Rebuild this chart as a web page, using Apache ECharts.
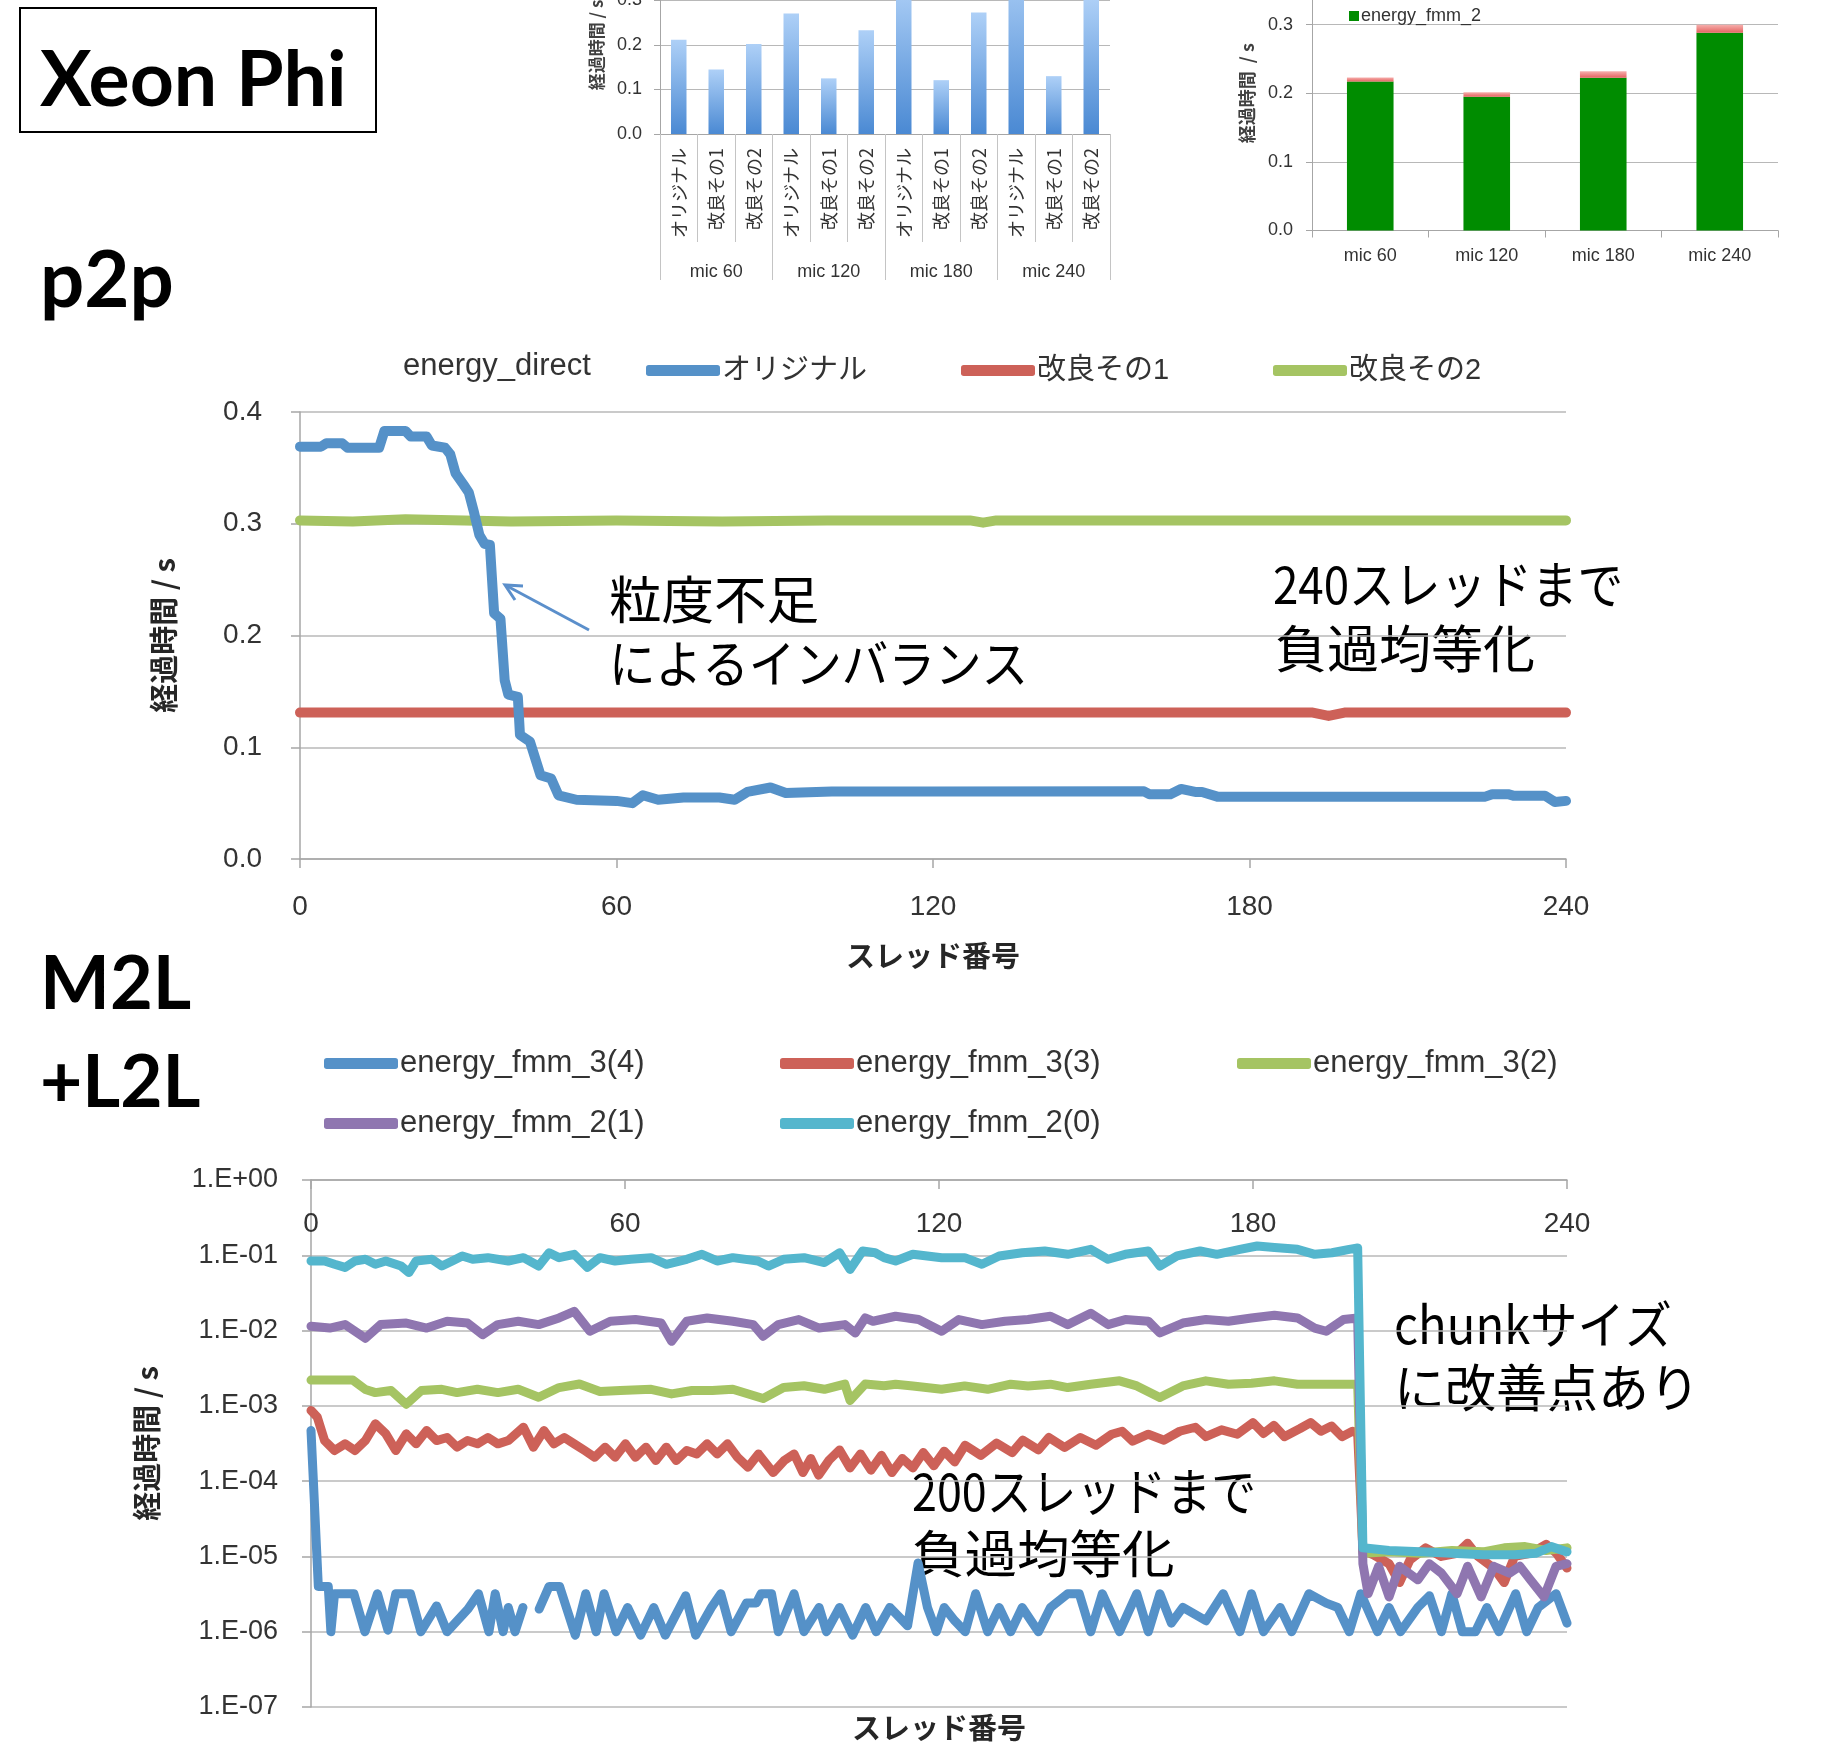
<!DOCTYPE html>
<html><head><meta charset="utf-8">
<script src="https://cdn.jsdelivr.net/npm/echarts@6/dist/echarts.min.js"></script>
<style>html,body{margin:0;padding:0;background:#fff}#c{width:1826px;height:1746px}</style>
</head><body><div id="c"></div>
<script>
// ---------- Chart A: top-middle bar chart ----------
const catA = ['オリジナル','改良その1','改良その2','オリジナル','改良その1','改良その2','オリジナル','改良その1','改良その2','オリジナル','改良その1','改良その2'];
const groupA = ['mic 60','mic 120','mic 180','mic 240'];
const valA = [0.212,0.145,0.202, 0.271,0.125,0.233, 0.34,0.121,0.273, 0.385,0.130,0.305];

// ---------- Chart B: top-right stacked bar ----------
const catB = ['mic 60','mic 120','mic 180','mic 240'];
const fmm2Main = [0.217,0.195,0.2225,0.288];
const fmm2Rest = [0.006,0.0065,0.0095,0.012];

// ---------- Chart C: p2p energy_direct ----------
const origC = [[0,0.369],[4,0.369],[5,0.372],[8,0.372],[9,0.368],[15,0.368],[16,0.383],[20,0.383],[21,0.378],[24,0.378],[25,0.370],[27.5,0.368],[28.5,0.362],[29.5,0.345],[31,0.335],[32,0.328],[33,0.31],[34,0.29],[35,0.282],[36,0.281],[36.8,0.22],[38,0.215],[38.8,0.16],[39.5,0.147],[41.3,0.145],[41.7,0.111],[43.6,0.105],[45.6,0.075],[47.6,0.072],[49,0.057],[52.4,0.053],[60,0.052],[63,0.050],[65,0.057],[67.9,0.053],[72.7,0.055],[79.5,0.055],[82.4,0.053],[84.8,0.06],[89.2,0.064],[92.1,0.059],[100.8,0.0605],[120,0.0605],[160,0.0606],[161,0.058],[165,0.058],[167,0.0627],[169.7,0.06],[171,0.06],[173.9,0.0558],[224.7,0.0558],[226,0.058],[229,0.058],[230,0.0567],[236,0.0567],[237.9,0.051],[240,0.052]];
const imp1C = [[0,0.131],[60,0.131],[120,0.131],[192,0.131],[195,0.128],[198,0.131],[240,0.131]];
const imp2C = [[0,0.303],[10,0.302],[20,0.304],[40,0.302],[60,0.303],[80,0.302],[100,0.303],[127,0.303],[129.5,0.301],[132,0.303],[160,0.303],[200,0.303],[240,0.303]];

// ---------- Chart D: M2L+L2L (log) ----------
const fmm34 = [[0,4.7e-4],[1.4,4e-6],[3.3,4e-6],[3.8,1e-6],[4.5,3.2e-6],[8.2,3.2e-6],[10.3,1e-6],[12.7,3.2e-6],[14.7,1.05e-6],[16.2,3.2e-6],[19,3.2e-6],[21,1e-6],[24,2.2e-6],[26,1e-6],[30,2e-6],[32,3.2e-6],[34,1e-6],[35.2,3.2e-6],[36.7,1e-6],[37.7,2.1e-6],[39,1e-6],[40.5,2.1e-6],[42,null],[43.6,2e-6],[45.5,4e-6],[47.5,4e-6],[50.5,9e-7],[52.5,3.2e-6],[54.5,1e-6],[56,3.2e-6],[58.3,1e-6],[60.5,2.1e-6],[63,9e-7],[65.5,2.1e-6],[67.7,9e-7],[71.6,3e-6],[73.5,9e-7],[76.5,2.1e-6],[78.3,3.2e-6],[80.3,1e-6],[83.2,2.4e-6],[85.1,2.4e-6],[86,3.2e-6],[88,3.2e-6],[89.3,1e-6],[92.3,3.2e-6],[94.2,1e-6],[97.1,2.1e-6],[98.5,1e-6],[101,2.1e-6],[103.5,9e-7],[106,2.1e-6],[108,1e-6],[110.6,2.1e-6],[114,1.2e-6],[116,8.2e-6],[117.8,2.1e-6],[119.5,1e-6],[121,2.1e-6],[123,1.4e-6],[125,1e-6],[127,3.2e-6],[129.3,1e-6],[131.5,2.1e-6],[133.7,1e-6],[135.9,2.1e-6],[139,1e-6],[141.3,2.1e-6],[144.6,3.2e-6],[146.8,3.2e-6],[149,1e-6],[151.2,3.2e-6],[154.5,1e-6],[157.8,3.2e-6],[160,1e-6],[162.2,3.2e-6],[164.4,1.3e-6],[166.6,2.1e-6],[171,1.4e-6],[174.3,3.2e-6],[177.5,1e-6],[179.7,3.2e-6],[182,1e-6],[185.2,2.1e-6],[187.4,1e-6],[190.7,3.2e-6],[194,2.4e-6],[196.2,2.1e-6],[198.4,1e-6],[200.6,3.2e-6],[203.8,1e-6],[206,2.1e-6],[208.2,1e-6],[211.5,2.1e-6],[213.7,3e-6],[216,1e-6],[218,3.2e-6],[220,1e-6],[222.5,1e-6],[224.7,2.1e-6],[227,1e-6],[230.2,3.2e-6],[232.3,1e-6],[234.5,2.1e-6],[237.9,3.2e-6],[240,1.3e-6]];
const fmm33 = [[0,8.7e-4],[1.2,7.1e-4],[2.6,3.46e-4],[4.5,2.55e-4],[6.5,3.13e-4],[8.4,2.55e-4],[10.4,3.46e-4],[12.3,5.77e-4],[14.3,4.25e-4],[16.2,2.55e-4],[18.2,4.25e-4],[20.1,3.13e-4],[22.1,4.7e-4],[24,3.46e-4],[26,3.8e-4],[27.9,2.83e-4],[29.9,3.46e-4],[31.8,3.13e-4],[33.8,3.8e-4],[35.7,3.13e-4],[37.7,3.46e-4],[40.6,5.2e-4],[42.5,2.83e-4],[44.5,4.7e-4],[46.4,3.13e-4],[48.4,3.8e-4],[50.3,3.13e-4],[52.3,2.55e-4],[54.2,2.08e-4],[56.2,2.83e-4],[58.1,2.08e-4],[60.1,3.13e-4],[62,2.08e-4],[64,2.83e-4],[65.9,1.88e-4],[67.9,2.83e-4],[69.8,1.88e-4],[71.8,2.55e-4],[73.7,2.3e-4],[75.7,3.13e-4],[77.6,2.3e-4],[79.6,3.13e-4],[81.5,2.08e-4],[83.5,1.53e-4],[85.5,2.3e-4],[88.3,1.3e-4],[90.5,1.9e-4],[92.3,2.3e-4],[94,1.3e-4],[95.5,2e-4],[97,1.2e-4],[99,1.9e-4],[101,2.6e-4],[103,1.5e-4],[105,2.3e-4],[107,1.4e-4],[109,2.2e-4],[111,1.3e-4],[113,2.0e-4],[115,1.5e-4],[117,2.4e-4],[119,1.6e-4],[121,2.5e-4],[123,1.8e-4],[125,3.0e-4],[128,2.2e-4],[131,3.2e-4],[134,2.4e-4],[136,3.5e-4],[139,2.6e-4],[141,3.8e-4],[144,2.8e-4],[147,3.8e-4],[150,3.0e-4],[153,4.2e-4],[155,4.6e-4],[157,3.4e-4],[160,4.2e-4],[163,3.5e-4],[166,4.6e-4],[169,5.2e-4],[171,3.9e-4],[174,4.8e-4],[177,4.2e-4],[180,6.0e-4],[182,4.3e-4],[184,5.5e-4],[186,3.9e-4],[189,5.0e-4],[191,6.0e-4],[193,4.6e-4],[195,5.4e-4],[197,3.9e-4],[199,4.6e-4],[200,4.3e-4],[201,1.2e-5],[203,1.05e-5],[206,8e-6],[208,4.5e-6],[210,9e-6],[213,1.3e-5],[216,1e-5],[219,1.1e-5],[221,1.5e-5],[223,1e-5],[226,7e-6],[228,4.5e-6],[230,1e-5],[233,1.1e-5],[236,1.45e-5],[238,1.1e-5],[240,7e-6]];
const fmm32 = [[0,2.2e-3],[8,2.2e-3],[10.4,1.65e-3],[12.3,1.5e-3],[15.3,1.6e-3],[18.2,1.05e-3],[21.1,1.6e-3],[25,1.66e-3],[27.9,1.5e-3],[31.8,1.66e-3],[35.7,1.5e-3],[39.6,1.66e-3],[43.5,1.3e-3],[47.4,1.75e-3],[51.3,1.95e-3],[55.2,1.55e-3],[59.1,1.6e-3],[65,1.66e-3],[68.9,1.44e-3],[72.8,1.6e-3],[76.7,1.6e-3],[80.6,1.66e-3],[86.4,1.25e-3],[90.3,1.75e-3],[94.2,1.85e-3],[98.1,1.66e-3],[102,1.95e-3],[103,1.18e-3],[105.9,1.95e-3],[109.5,1.85e-3],[111.7,1.94e-3],[115,1.84e-3],[120.5,1.66e-3],[124.9,1.84e-3],[129.3,1.66e-3],[133.7,1.94e-3],[137,1.84e-3],[141.3,1.94e-3],[144.6,1.75e-3],[149,1.94e-3],[154.5,2.15e-3],[157.8,1.84e-3],[162.2,1.29e-3],[166.6,1.84e-3],[171,2.15e-3],[175.3,1.94e-3],[179.7,2.0e-3],[184.1,2.15e-3],[188.5,1.94e-3],[192.9,1.94e-3],[200,1.94e-3],[201,1.1e-5],[206,1.15e-5],[212,1.1e-5],[218,1.2e-5],[224,1.15e-5],[228,1.3e-5],[232,1.35e-5],[236,1.2e-5],[240,1.3e-5]];
const fmm21 = [[0,0.0114],[3.6,0.0108],[6.5,0.012],[10.4,0.0079],[13.3,0.012],[18.2,0.0126],[22.1,0.0108],[26,0.0133],[29.9,0.0126],[32.8,0.0088],[35.7,0.012],[39.6,0.0133],[43.5,0.012],[47.4,0.0147],[50.3,0.018],[53.3,0.0098],[57.2,0.0133],[62,0.014],[66.9,0.0126],[68.9,0.0072],[71.8,0.0133],[75.7,0.0147],[80.6,0.0133],[84.5,0.012],[86.4,0.0084],[89.3,0.012],[93.2,0.014],[97.1,0.0108],[102,0.012],[104,0.0093],[105.9,0.0147],[107.4,0.0133],[111.7,0.0155],[116.1,0.014],[120.5,0.0098],[123.8,0.014],[128.2,0.012],[132.6,0.0133],[137,0.014],[141.3,0.0155],[144.6,0.012],[149,0.017],[152.3,0.012],[155.6,0.014],[160,0.0133],[162.2,0.0093],[166.6,0.0126],[171,0.014],[175.3,0.0133],[179.7,0.0147],[184.1,0.016],[188.5,0.0147],[191.8,0.0108],[194,0.0098],[197.3,0.014],[200,0.0147],[201,8e-6],[202,3.2e-6],[204,7.4e-6],[206,2.9e-6],[208,7.4e-6],[211.5,4.9e-6],[213.7,8e-6],[216,6e-6],[219,3.2e-6],[221,7.4e-6],[223.6,2.9e-6],[226,7.4e-6],[229,6e-6],[231,7.4e-6],[233,4.9e-6],[235.6,2.9e-6],[237.9,7.4e-6],[240,8e-6]];
const fmm20 = [[0,0.084],[2.6,0.084],[4.5,0.076],[6.5,0.069],[8.4,0.084],[10.4,0.0885],[12.3,0.076],[14.3,0.084],[17.2,0.072],[18.7,0.059],[20.1,0.084],[23.1,0.0885],[25,0.072],[27,0.084],[28.9,0.098],[30.9,0.0885],[33.8,0.093],[37.7,0.084],[40.6,0.093],[43.5,0.072],[45.5,0.108],[47.4,0.093],[50.3,0.103],[52.8,0.069],[55.2,0.093],[58.1,0.084],[61.1,0.0885],[65,0.093],[67.9,0.076],[71.8,0.0885],[74.7,0.103],[77.6,0.084],[80.6,0.093],[85.4,0.084],[87.4,0.072],[90.3,0.0885],[94.2,0.093],[98.1,0.08],[101,0.108],[103,0.065],[105.4,0.114],[107.8,0.108],[109.5,0.093],[111.7,0.084],[115,0.103],[120.5,0.093],[124.9,0.093],[128.2,0.076],[131.5,0.098],[135.9,0.108],[140.2,0.114],[144.6,0.103],[149,0.12],[152.3,0.0885],[155.6,0.103],[160,0.114],[162.2,0.072],[165.5,0.098],[169.9,0.114],[173.1,0.103],[177.5,0.12],[180.8,0.133],[184.1,0.127],[188.5,0.12],[191.8,0.103],[195.1,0.108],[198.4,0.12],[200,0.125],[201,1.3e-5],[206,1.2e-5],[212,1.15e-5],[218,1.1e-5],[224,1.05e-5],[230,1.05e-5],[234,1.1e-5],[237,1.35e-5],[240,1.15e-5]];

const FONT = '"Liberation Sans","Noto Sans CJK JP",sans-serif';
const JP = '"Noto Sans CJK JP","Liberation Sans",sans-serif';
const BOLDF = 'Lato,"Liberation Sans",sans-serif';
const GRAY = '#a6a6a6', GRID = '#b8b8b8', TXT = '#333';
const C_BLUE = '#5591c8', C_RED = '#cd6158', C_GREEN = '#a5c463', C_PURPLE = '#8f76b0', C_CYAN = '#54b6cd';

const chart = echarts.init(document.getElementById('c'), null, {renderer:'canvas'});

function legendItem(name, left, top, size) {
  return {data:[name], left:left, top:top, padding:0, icon:'roundRect', itemWidth:74, itemHeight:11, itemGap:0,
    textStyle:{fontSize:size, color:TXT, fontFamily:FONT, padding:[0,0,0,-3]}, selectedMode:false};
}
const logLabel = v => { const e = Math.round(Math.log10(v)); return '1.E' + (e < 0 ? '-' : '+') + String(Math.abs(e)).padStart(2,'0'); };
const lineS = (name, data, color, w, x, y) => ({type:'line', name:name, data:data, xAxisIndex:x, yAxisIndex:y,
  showSymbol:false, symbol:'none', lineStyle:{color:color, width:w, cap:'round', join:'round'}, itemStyle:{color:color}, connectNulls:false});
function note(text, x, y, sx) {
  return {type:'text', x:x, y:y, scaleX:sx, scaleY:1, originX:0, originY:0, style:{text:text, font:'51px ' + JP, fill:'#000', verticalAlign:'middle'}};
}

const option = {
  animation:false,
  textStyle:{fontFamily:FONT},
  grid:[
    {left:660, top:-44, width:450, height:178, outerBoundsMode:'none', containLabel:false},
    {left:1312, top:-44, width:466, height:274.5, outerBoundsMode:'none', containLabel:false},
    {left:300, top:412, width:1266, height:447, outerBoundsMode:'none', containLabel:false},
    {left:311, top:1180, width:1256, height:527, outerBoundsMode:'none', containLabel:false}
  ],
  legend:[
    {data:['energy_fmm_2'], left:1349, top:7, padding:0, icon:'rect', itemWidth:10, itemHeight:10, selectedMode:false,
      textStyle:{fontSize:18, color:TXT, fontFamily:FONT, padding:[0,0,0,-3]}},
    legendItem('オリジナル', 646, 356, 29),
    legendItem('改良その1', 961, 356, 29),
    legendItem('改良その2', 1273, 356, 29),
    legendItem('energy_fmm_3(4)', 324, 1048, 31),
    legendItem('energy_fmm_3(3)', 780, 1048, 31),
    legendItem('energy_fmm_3(2)', 1237, 1048, 31),
    legendItem('energy_fmm_2(1)', 324, 1108, 31),
    legendItem('energy_fmm_2(0)', 780, 1108, 31)
  ],
  xAxis:[
    {type:'category', gridIndex:0, data:catA, position:'bottom',
      axisLine:{lineStyle:{color:GRAY}}, axisTick:{show:true, interval:0, length:108, lineStyle:{color:'#c4c4c4'}},
      axisLabel:{interval:0, rotate:90, fontSize:18, margin:14, color:TXT, fontFamily:JP}},
    {type:'category', gridIndex:0, data:groupA, position:'bottom',
      axisLine:{show:false}, axisTick:{show:true, interval:0, length:146, lineStyle:{color:'#c4c4c4'}},
      axisLabel:{interval:0, fontSize:18, margin:129, color:TXT}},
    {type:'category', gridIndex:1, data:catB,
      axisLine:{lineStyle:{color:GRAY}}, axisTick:{show:true, interval:0, length:7, lineStyle:{color:GRAY}},
      axisLabel:{fontSize:18, margin:17, color:TXT}},
    {type:'value', gridIndex:2, min:0, max:240, interval:60,
      axisLine:{lineStyle:{color:GRAY, width:1.5}}, axisTick:{show:true, length:9, lineStyle:{color:GRAY, width:1.5}},
      axisLabel:{fontSize:28, margin:34, color:TXT}, splitLine:{show:false},
      name:'スレッド番号', nameLocation:'middle', nameGap:82,
      nameTextStyle:{fontSize:29, fontWeight:'bold', color:'#262626', fontFamily:JP}},
    {type:'value', gridIndex:3, min:0, max:240, interval:60, position:'top',
      axisLine:{lineStyle:{color:GRAY, width:1.5}}, axisTick:{show:true, inside:true, length:9, lineStyle:{color:GRAY, width:1.5}},
      axisLabel:{inside:true, fontSize:28, margin:30, color:TXT}, splitLine:{show:false}},
    {type:'value', gridIndex:3, min:0, max:240, position:'bottom',
      axisLine:{show:false}, axisTick:{show:false}, axisLabel:{show:false}, splitLine:{show:false},
      name:'スレッド番号', nameLocation:'middle', nameGap:6,
      nameTextStyle:{fontSize:29, fontWeight:'bold', color:'#262626', fontFamily:JP}}
  ],
  yAxis:[
    {type:'value', gridIndex:0, min:0, max:0.4, interval:0.1,
      axisLine:{show:true, lineStyle:{color:GRAY}}, axisTick:{show:true, length:6, lineStyle:{color:GRAY}},
      axisLabel:{fontSize:18, margin:18, color:TXT, formatter:v => v.toFixed(1)},
      splitLine:{lineStyle:{color:GRID}},
      name:'経過時間 / s', nameLocation:'middle', nameGap:55,
      nameTextStyle:{fontSize:17, fontWeight:'bold', color:'#404040', fontFamily:JP}},
    {type:'value', gridIndex:1, min:0, max:0.4, interval:0.1,
      axisLine:{show:true, lineStyle:{color:GRAY}}, axisTick:{show:true, length:6, lineStyle:{color:GRAY}},
      axisLabel:{fontSize:18, margin:19, color:TXT, formatter:v => v.toFixed(1)},
      splitLine:{lineStyle:{color:GRID}},
      name:'経過時間  / s', nameLocation:'middle', nameGap:56,
      nameTextStyle:{fontSize:18, fontWeight:'bold', color:'#404040', fontFamily:JP}},
    {type:'value', gridIndex:2, min:0, max:0.4, interval:0.1,
      axisLine:{show:true, lineStyle:{color:GRAY, width:1.5}}, axisTick:{show:true, length:9, lineStyle:{color:GRAY, width:1.5}},
      axisLabel:{fontSize:28, margin:38, color:TXT, formatter:v => v.toFixed(1)},
      splitLine:{lineStyle:{color:GRID, width:1.5}},
      name:'経過時間 / s', nameLocation:'middle', nameGap:122,
      nameTextStyle:{fontSize:29, fontWeight:'bold', color:'#262626', fontFamily:JP}},
    {type:'log', logBase:10, gridIndex:3, min:1e-7, max:1,
      axisLine:{show:true, lineStyle:{color:GRAY, width:1.5}}, axisTick:{show:true, length:9, lineStyle:{color:GRAY, width:1.5}},
      axisLabel:{fontSize:27, margin:33, color:TXT, formatter:logLabel},
      splitLine:{lineStyle:{color:GRID, width:1.5}},
      name:'経過時間 / s', nameLocation:'middle', nameGap:150,
      nameTextStyle:{fontSize:29, fontWeight:'bold', color:'#262626', fontFamily:JP}}
  ],
  series:[
    {type:'bar', name:'A', data:valA, xAxisIndex:0, yAxisIndex:0, barWidth:15.5,
      itemStyle:{color:{type:'linear', x:0, y:0, x2:0, y2:1, colorStops:[{offset:0, color:'#aed0f7'},{offset:1, color:'#4a89d3'}]}}},
    {type:'bar', name:'energy_fmm_2', data:fmm2Main, xAxisIndex:2, yAxisIndex:1, stack:'b', barWidth:'40%',
      itemStyle:{color:'#008c00'}},
    {type:'bar', name:'fmm2_rest', data:fmm2Rest, xAxisIndex:2, yAxisIndex:1, stack:'b', barWidth:'40%',
      itemStyle:{color:{type:'linear', x:0, y:0, x2:0, y2:1, colorStops:[{offset:0, color:'#f6b0ae'},{offset:1, color:'#e4625f'}]}}},
    lineS('改良その2', imp2C, C_GREEN, 10, 3, 2),
    lineS('改良その1', imp1C, C_RED, 10, 3, 2),
    lineS('オリジナル', origC, C_BLUE, 10, 3, 2),
    lineS('energy_fmm_3(4)', fmm34, C_BLUE, 9, 4, 3),
    lineS('energy_fmm_3(3)', fmm33, C_RED, 9, 4, 3),
    lineS('energy_fmm_3(2)', fmm32, C_GREEN, 9, 4, 3),
    lineS('energy_fmm_2(1)', fmm21, C_PURPLE, 9, 4, 3),
    lineS('energy_fmm_2(0)', fmm20, C_CYAN, 9, 4, 3)
  ],
  graphic:[
    {type:'rect', shape:{x:20, y:8, width:356, height:124}, style:{fill:'none', stroke:'#000', lineWidth:2}},
    {type:'text', x:40, y:81, style:{text:'Xeon Phi', font:'bold 77px ' + BOLDF, fill:'#000', verticalAlign:'middle'}},
    {type:'text', x:40, y:282, style:{text:'p2p', font:'bold 78px ' + BOLDF, fill:'#000', verticalAlign:'middle'}},
    {type:'text', x:40, y:985, style:{text:'M2L', font:'bold 74px ' + BOLDF, fill:'#000', verticalAlign:'middle'}},
    {type:'text', x:40, y:1083, style:{text:'+L2L', font:'bold 73px ' + BOLDF, fill:'#000', verticalAlign:'middle'}},
    {type:'text', x:403, y:366, style:{text:'energy_direct', font:'31px ' + FONT, fill:TXT, verticalAlign:'middle'}},
    note('粒度不足', 609, 600, 1.03),
    note('によるインバランス', 609, 664, 0.913),
    note('240スレッドまで', 1273, 585, 0.896),
    note('負過均等化', 1275, 649, 1.02),
    note('chunkサイズ', 1394, 1325, 0.926),
    note('に改善点あり', 1394, 1388, 1.0),
    note('200スレッドまで', 912, 1492, 0.88),
    note('負過均等化', 912, 1554, 1.03),
    {type:'line', shape:{x1:589, y1:630, x2:507, y2:586}, style:{stroke:'#5b8fcb', lineWidth:3}},
    {type:'polyline', shape:{points:[[515,600],[505,585],[523,586]]}, style:{stroke:'#5b8fcb', lineWidth:3, fill:'none'}}
  ]
};
chart.setOption(option);
</script></body></html>
